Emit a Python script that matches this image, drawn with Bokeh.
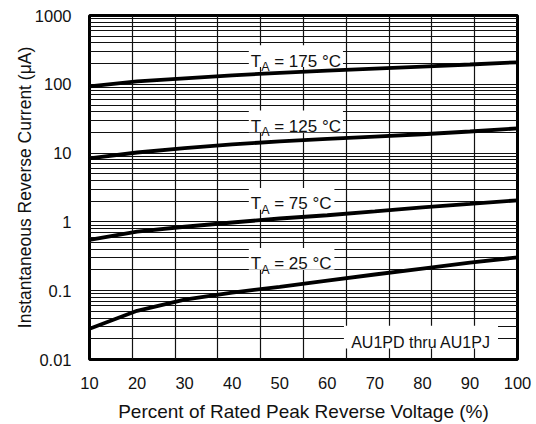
from bokeh.plotting import figure
from bokeh.models import FixedTicker, Label, Range1d
from bokeh.embed import file_html
from bokeh.resources import INLINE

# ---- data ----
voltage_pct = [10, 20, 30, 40, 50, 60, 70, 80, 90, 100]
i_25C = [0.028, 0.051, 0.074, 0.094, 0.114, 0.140, 0.172, 0.21, 0.255, 0.305]
i_75C = [0.55, 0.72, 0.85, 0.98, 1.12, 1.25, 1.42, 1.63, 1.83, 2.06]
i_125C = [8.4, 10.2, 11.8, 13.4, 14.8, 16.1, 17.4, 18.8, 20.6, 22.9]
i_175C = [93, 110, 122, 135, 147, 158, 169, 181, 194, 209]
series_temps = ["175", "125", "75", "25"]
x_tick_values = [10, 20, 30, 40, 50, 60, 70, 80, 90, 100]
y_tick_values = [0.01, 0.1, 1, 10, 100, 1000]
y_tick_labels = ["0.01", "0.1", "1", "10", "100", "1000"]
x_grid_values = [19, 28, 37, 46, 55, 64, 73, 82, 91]
note_text = "AU1PD thru AU1PJ"

FONT = "Liberation Sans"
INK = "#111111"

p = figure(width=536, height=424, y_axis_type="log",
           x_range=Range1d(10, 100), y_range=Range1d(0.01, 1000),
           output_backend="svg", toolbar_location=None,
           min_border_left=89, min_border_right=19,
           min_border_top=15, min_border_bottom=61)
p.background_fill_color = "white"
p.border_fill_color = "white"
p.outline_line_color = "black"
p.outline_line_width = 3

# grid
p.xgrid.ticker = FixedTicker(ticks=x_grid_values)
p.ygrid.ticker = FixedTicker(ticks=[m * 10.0 ** e for e in range(-2, 3) for m in range(1, 10)])
for g in (p.xgrid, p.ygrid):
    g.grid_line_color = "#111111"
    g.grid_line_width = 1.2
    g.grid_line_alpha = 1.0

# axes
p.xaxis.ticker = FixedTicker(ticks=x_tick_values)
p.yaxis.ticker = FixedTicker(ticks=y_tick_values)
p.yaxis.major_label_overrides = {v: s for v, s in zip(y_tick_values, y_tick_labels)}
for ax in (p.xaxis, p.yaxis):
    ax.axis_line_color = None
    ax.major_tick_line_color = None
    ax.minor_tick_line_color = None
    ax.major_label_text_font = FONT
    ax.major_label_text_font_size = "16.5px"
    ax.major_label_text_color = INK
    ax.axis_label_text_font = FONT
    ax.axis_label_text_font_style = "normal"
    ax.axis_label_text_color = INK
p.xaxis.axis_label_text_font_size = "19px"
p.yaxis.axis_label_text_font_size = "17.5px"
p.xaxis.major_label_standoff = 11
p.yaxis.major_label_standoff = 12
p.xaxis.axis_label = "Percent of Rated Peak Reverse Voltage (%)"
p.yaxis.axis_label = "Instantaneous Reverse Current (\u03bcA)"
p.xaxis.axis_label_standoff = 9
p.yaxis.axis_label_standoff = -3

# curves
for ys in (i_175C, i_125C, i_75C, i_25C):
    p.line(voltage_pct, ys, line_color="black", line_width=3.8)

# temperature labels with white boxes
label_x = 43.5
label_y = {"175": 265, "125": 30, "75": 2.24, "25": 0.30}
box_right = {"175": 63.3, "125": 63.3, "75": 61.5, "25": 61.5}
for t in series_temps:
    yv = label_y[t]
    p.quad(left=label_x, right=box_right[t], top=yv * 1.39, bottom=yv / 1.49,
           fill_color="white", line_color=None)
    p.add_layout(Label(x=label_x, y=yv, x_offset=2, y_offset=-6, text="T",
                       text_font=FONT, text_font_size="17px", text_color=INK,
                       text_baseline="alphabetic"))
    p.add_layout(Label(x=label_x, y=yv, x_offset=12.4, y_offset=-12, text="A",
                       text_font=FONT, text_font_size="12.5px", text_color=INK,
                       text_baseline="alphabetic"))
    p.add_layout(Label(x=label_x, y=yv, x_offset=25.4, y_offset=-6,
                       text="= " + t + " \u00b0C",
                       text_font=FONT, text_font_size="17px", text_color=INK,
                       text_baseline="alphabetic"))

# device note
note_y = 0.0213
p.quad(left=63.5, right=95.9, top=note_y * 1.45, bottom=note_y / 1.47,
       fill_color="white", line_color=None)
p.add_layout(Label(x=(63.5 + 95.9) / 2, y=note_y, y_offset=-6, text=note_text,
                   text_font=FONT, text_font_size="16px", text_color=INK,
                   text_align="center", text_baseline="alphabetic"))

open("out.html", "w").write(file_html(p, INLINE))
